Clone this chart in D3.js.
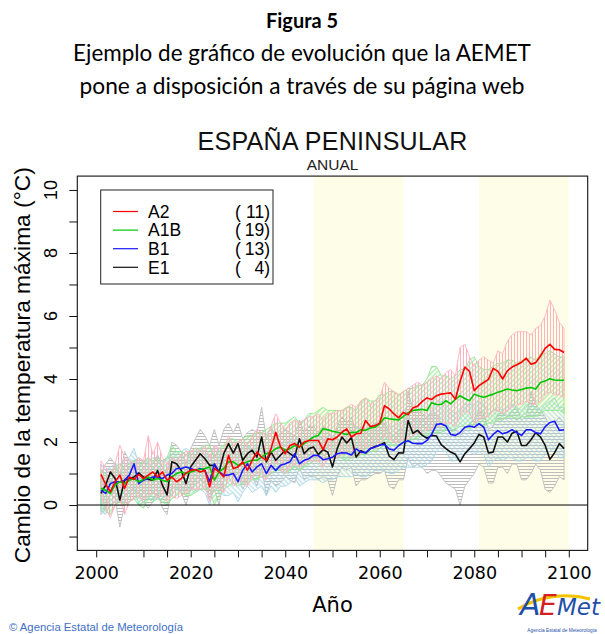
<!DOCTYPE html>
<html><head><meta charset="utf-8">
<script src="https://cdn.jsdelivr.net/npm/d3@7"></script>
<style>body{margin:0;background:#fff}svg{display:block}</style>
</head><body>
<svg id="c" width="605" height="634"></svg>
<script>
// ---------------- DATA ----------------
const firstYear = 2001, lastYear = 2099;
const scenarios = ["A2", "A1B", "B1", "E1"];
const modelCounts = [11, 19, 13, 4];
const xTickValues = [2000, 2010, 2015, 2020, 2025, 2030, 2035, 2040, 2045, 2050, 2055, 2060, 2065, 2070, 2075, 2080, 2085, 2090, 2095, 2100];
const xTickLabels = [2000, 2020, 2040, 2060, 2080, 2100];
const yTickValues = [-1, 0, 1, 2, 3, 4, 5, 6, 7, 8, 9, 10];
const yTickLabels = [0, 2, 4, 6, 8, 10];
const periods = [[2046, 2065], [2081, 2100]];

const a2 = [0.97,0.66,0.42,0.74,0.95,0.53,0.89,0.81,0.97,0.84,
 0.95,1.05,0.89,1.05,0.79,0.89,0.74,0.84,1.02,1.10,
 1.13,1.05,1.10,0.58,1.16,1.05,0.89,1.58,1.16,1.21,
 1.37,1.10,1.42,1.68,1.52,1.42,1.79,2.31,1.84,1.63,
 1.89,1.95,1.84,2.00,2.05,2.05,2.05,1.76,2.10,2.07,
 2.16,2.31,2.42,2.16,2.26,2.28,2.68,2.49,2.52,2.60,
 3.15,3.05,2.89,2.77,2.94,2.87,3.08,3.14,3.29,3.40,
 3.35,3.47,3.52,3.54,3.56,3.36,3.92,4.38,4.24,3.63,
 3.79,3.89,3.99,4.34,4.24,4.00,4.26,4.38,4.45,4.53,
 4.66,4.47,4.52,4.73,4.97,5.10,4.94,4.93,4.84];
const a1b = [0.53,0.47,0.37,0.63,0.74,0.68,0.79,0.84,0.74,0.81,
 0.89,0.79,0.84,0.79,0.74,0.89,1.00,1.05,1.00,1.05,
 1.10,1.13,1.16,1.21,0.79,1.05,1.16,1.37,1.37,1.26,
 1.31,1.37,1.42,1.42,1.52,1.63,1.68,1.79,1.84,1.74,
 1.79,1.89,1.84,1.95,2.05,2.16,2.21,2.42,2.39,2.34,
 2.31,2.28,2.24,2.31,2.30,2.39,2.37,2.45,2.47,2.58,
 2.77,2.74,2.72,2.70,2.81,2.93,3.00,3.02,3.04,3.00,
 3.25,3.19,3.19,3.31,3.21,3.35,3.47,3.38,3.31,3.52,
 3.46,3.42,3.47,3.52,3.58,3.63,3.68,3.65,3.63,3.67,
 3.71,3.73,3.68,3.89,3.94,4.01,3.97,3.96,3.96];
const b1 = [0.47,0.37,0.68,0.74,0.74,0.79,0.95,1.31,0.68,0.79,
 0.84,0.89,0.89,0.84,0.95,1.00,1.16,1.16,1.21,1.16,
 1.10,1.16,1.10,0.74,1.31,1.05,0.95,0.95,1.00,0.74,
 1.10,1.31,1.05,1.21,1.31,1.00,1.26,1.10,1.26,1.31,
 1.37,1.63,1.31,1.42,1.47,1.58,1.57,1.44,1.47,1.52,
 1.63,1.66,1.65,1.59,1.78,1.68,1.66,1.79,1.84,1.91,
 1.92,1.78,1.74,1.89,1.99,2.04,1.96,1.95,1.95,2.05,
 2.25,2.56,2.58,2.51,2.24,2.21,2.30,2.47,2.51,2.47,
 2.58,2.47,2.07,2.24,2.36,2.26,2.31,2.39,2.30,2.21,
 2.39,2.39,2.30,2.26,2.49,2.62,2.66,2.37,2.39];
const e1 = [0.37,0.63,1.05,0.84,0.16,0.79,0.84,0.89,1.02,0.89,
 0.81,0.79,1.10,0.63,0.32,1.37,1.31,1.10,0.68,1.21,
 1.42,1.63,1.47,1.26,1.26,1.05,1.63,1.95,1.65,1.95,
 1.42,1.63,1.74,1.52,2.16,1.37,1.68,1.42,1.58,1.74,
 1.63,1.52,2.10,1.63,1.79,1.84,1.60,1.76,1.68,1.21,
 1.79,2.16,1.97,2.14,1.52,1.72,1.65,1.79,1.86,1.90,
 1.98,1.55,1.44,1.66,1.65,2.68,2.28,2.37,2.21,2.12,
 2.21,2.19,1.92,1.79,1.68,1.61,1.37,1.63,1.79,1.97,
 2.24,2.16,1.65,1.68,2.16,2.16,2.00,2.28,2.34,1.89,
 1.89,2.07,2.30,2.16,1.89,1.45,1.66,1.95,1.79];

const a2Hi = [1.4,1.2,1.0,1.3,1.9,1.5,1.4,1.3,1.5,1.4,
 2.2,1.6,2.0,1.5,1.3,1.5,1.4,1.6,1.7,1.7,
 1.8,1.7,1.9,1.5,1.9,1.8,1.7,2.2,1.9,2.0,
 2.1,1.9,2.2,2.4,2.3,2.2,2.5,2.9,2.6,2.4,
 2.6,2.7,2.6,2.7,2.8,2.8,2.9,2.7,2.9,2.9,
 3.0,3.0,3.1,3.2,3.1,3.3,3.4,3.2,3.3,3.4,
 3.9,3.7,3.6,3.5,3.6,3.7,3.8,3.9,3.8,3.9,
 4.0,4.1,4.0,4.2,4.3,4.1,5.0,5.1,4.7,4.4,
 4.6,4.7,4.6,4.5,4.9,4.8,5.2,5.4,5.5,5.5,
 5.5,5.4,5.6,5.7,6.0,6.5,6.2,5.8,5.6];
const a2Lo = [0.3,-0.1,-0.4,0.0,0.2,-0.3,0.1,0.2,0.3,0.1,
 0.3,0.4,0.2,0.4,0.1,0.3,0.2,0.3,0.4,0.5,
 0.5,0.5,0.6,0.1,0.6,0.5,0.4,0.9,0.6,0.7,
 0.8,0.6,0.9,1.0,0.9,0.8,1.1,1.4,1.1,1.0,
 1.2,1.3,1.2,1.3,1.4,1.4,1.4,1.2,1.5,1.5,
 1.5,1.6,1.7,1.5,1.6,1.6,1.9,1.8,1.8,1.9,
 2.2,2.1,2.0,2.0,2.1,2.1,2.2,2.3,2.3,2.4,
 2.4,2.5,2.5,2.6,2.6,2.5,2.8,3.0,2.9,2.6,
 2.7,2.8,2.8,3.0,3.0,2.9,3.0,3.1,3.2,3.2,
 3.3,3.2,3.2,3.3,3.5,3.6,3.5,3.5,3.4];
const a1bHi = [1.1,1.0,0.9,1.2,1.3,1.2,1.3,1.4,1.3,1.4,
 1.5,1.4,1.5,1.4,1.5,1.9,1.7,1.7,1.6,1.7,
 1.8,1.8,1.9,1.9,1.5,1.8,1.9,2.1,2.1,2.0,
 2.1,2.2,2.2,2.3,2.3,2.4,2.5,2.6,2.6,2.6,
 2.7,2.8,2.6,2.7,2.9,2.9,3.0,3.1,3.0,3.0,
 3.0,3.0,3.1,3.1,3.0,3.3,3.4,3.3,3.3,3.5,
 3.5,3.6,3.6,3.5,3.6,3.7,3.7,3.8,3.8,4.0,
 4.4,4.4,4.1,4.1,4.0,4.1,4.3,4.3,4.6,4.7,
 4.4,4.3,4.3,4.4,4.5,4.5,4.6,4.6,4.5,4.6,
 4.6,4.7,4.6,4.8,4.8,4.9,4.8,4.7,4.7];
const a1bLo = [-0.1,-0.2,-0.3,0.0,0.1,0.0,0.1,0.2,0.0,-0.1,
 0.2,0.1,0.2,0.1,0.0,0.2,0.3,0.4,0.3,0.3,
 0.4,0.5,0.5,0.5,0.0,0.3,0.5,0.6,0.7,0.6,
 0.7,0.7,0.8,0.8,0.9,0.9,1.0,1.1,1.1,1.0,
 1.1,1.2,1.1,1.2,1.3,1.4,1.4,1.6,1.5,1.5,
 1.5,1.5,1.4,1.5,1.5,1.6,1.6,1.7,1.7,1.8,
 1.9,1.9,1.9,1.9,2.0,2.0,2.1,2.1,2.2,2.2,
 2.3,2.3,2.3,2.4,2.3,2.4,2.5,2.5,2.4,2.6,
 2.6,2.5,2.6,2.6,2.7,2.7,2.8,2.8,2.7,2.8,
 2.8,2.8,2.8,2.9,3.0,3.0,3.0,3.0,2.9];
const b1Hi = [1.3,1.1,1.2,1.3,1.3,1.4,1.5,1.8,1.3,1.4,
 1.4,1.5,1.5,1.4,1.5,1.6,1.7,1.7,1.8,1.7,
 1.7,1.8,1.7,1.4,1.9,1.7,1.6,1.6,1.7,1.5,
 1.8,1.9,1.7,1.9,1.9,1.7,1.9,1.8,1.9,2.0,
 2.0,2.2,2.0,2.1,2.1,2.2,2.2,2.1,2.2,2.2,
 2.3,2.3,2.4,2.3,2.5,2.4,2.4,2.5,2.6,2.6,
 2.6,2.5,2.5,2.6,2.7,2.8,2.7,2.7,2.7,2.8,
 3.0,3.3,3.3,3.2,3.0,2.9,3.0,3.2,3.2,3.2,
 3.3,3.2,2.9,3.0,3.1,3.0,3.1,3.2,3.1,3.0,
 3.2,3.2,3.1,3.0,3.2,3.3,3.4,3.1,3.1];
const b1Lo = [-0.2,-0.3,0.0,0.1,0.1,0.1,0.3,0.6,0.0,0.1,
 0.2,0.2,0.2,0.2,0.3,0.3,0.5,0.5,0.5,0.5,
 0.4,0.5,0.4,0.0,0.6,0.4,0.3,0.3,0.4,0.1,
 0.4,0.6,0.4,0.5,0.6,0.3,0.6,0.4,0.6,0.6,
 0.7,0.9,0.6,0.7,0.8,0.8,0.8,0.7,0.8,0.8,
 0.9,0.9,0.9,0.9,1.0,0.9,0.9,1.0,1.1,1.1,
 1.1,1.0,1.0,1.1,1.2,1.2,1.2,1.2,1.2,1.3,
 1.4,1.7,1.7,1.7,1.4,1.4,1.5,1.6,1.7,1.6,
 1.7,1.6,1.2,1.4,1.5,1.4,1.5,1.5,1.4,1.4,
 1.5,1.5,1.4,1.4,1.6,1.7,1.8,1.5,1.5];
const e1Hi = [1.0,1.3,1.5,1.3,0.9,1.7,1.4,1.4,1.5,1.4,
 1.3,1.3,1.6,1.2,1.0,2.0,1.9,1.7,1.3,1.8,
 2.1,2.4,2.2,1.9,2.4,1.9,2.4,2.6,2.3,2.6,
 2.1,2.3,2.4,2.3,3.1,2.1,2.5,2.1,2.3,2.4,
 2.3,2.2,2.7,2.3,2.5,2.5,2.3,2.5,2.4,2.0,
 2.5,2.8,2.6,2.8,2.3,2.5,2.4,2.5,2.6,2.6,
 2.6,2.3,2.2,2.4,2.4,3.6,3.0,3.1,2.9,2.8,
 2.9,2.9,2.6,2.6,2.4,2.4,2.2,2.4,2.6,2.7,
 3.0,2.9,2.4,2.5,2.9,2.9,2.8,3.0,3.1,2.7,
 2.8,3.6,3.2,3.0,2.8,2.5,2.6,2.8,2.6];
const e1Lo = [-0.3,-0.1,0.4,0.2,-0.7,0.0,0.1,0.2,0.3,0.1,
 -0.1,0.1,0.4,-0.1,-0.3,0.6,0.5,0.4,0.0,0.5,
 0.7,0.8,0.7,0.2,0.5,0.0,0.8,1.1,0.9,1.0,
 0.5,0.8,0.9,0.6,1.2,0.3,0.8,0.6,0.7,0.9,
 0.8,0.7,1.2,0.8,0.9,0.9,0.8,0.9,0.8,0.3,
 0.9,1.2,1.1,1.2,0.6,0.8,0.8,0.9,1.0,1.0,
 1.1,0.6,0.5,0.8,0.8,1.5,1.2,1.3,1.2,1.0,
 1.1,1.1,0.9,0.7,0.6,0.5,0.0,0.6,0.8,1.0,
 1.3,1.2,0.7,0.7,1.2,1.2,1.0,1.3,1.3,0.8,
 0.8,1.0,1.3,1.1,0.5,0.4,0.6,0.9,0.8];

// ---------------- DRAWING ----------------
const years = d3.range(firstYear, lastYear + 1);
const lineColors = {A2: "#ff0000", A1B: "#00c800", B1: "#1a1aff", E1: "#111111"};
const bandColors = {A2: "#ffb3c1", A1B: "#8fe68f", B1: "#a9d6e8", E1: "#bdbdbd"};
const means = {A2: a2, A1B: a1b, B1: b1, E1: e1};
const his = {A2: a2Hi, A1B: a1bHi, B1: b1Hi, E1: e1Hi};
const los = {A2: a2Lo, A1B: a1bLo, B1: b1Lo, E1: e1Lo};

const svg = d3.select("#c");
svg.append("rect").attr("width", 605).attr("height", 634).attr("fill", "#fff");

const L = 77.3, R = 587.7, T = 176.1, B = 550.4;
const x = d3.scaleLinear().domain([1996, 2104]).range([L, R]);
const y = d3.scaleLinear().domain([-1.44, 10.44]).range([B, T]);

function fit(sel, target) {
  const w = sel.node().getComputedTextLength();
  sel.attr("font-size", parseFloat(sel.attr("font-size")) * target / w);
  return sel;
}

// header
const hf = "Lato, 'Open Sans', sans-serif";
fit(svg.append("text").attr("x", 302).attr("y", 28).attr("text-anchor", "middle")
  .attr("font-family", hf).attr("font-weight", 700).attr("font-size", 20).attr("fill", "#000").text("Figura 5"), 72);
fit(svg.append("text").attr("x", 302).attr("y", 61).attr("text-anchor", "middle")
  .attr("font-family", hf).attr("font-size", 21).attr("fill", "#000").text("Ejemplo de gráfico de evolución que la AEMET"), 458);
fit(svg.append("text").attr("x", 302).attr("y", 94).attr("text-anchor", "middle")
  .attr("font-family", hf).attr("font-size", 21).attr("fill", "#000").text("pone a disposición a través de su página web"), 445);

// chart titles
const af = "'Liberation Sans', Arial, sans-serif";
svg.append("text").attr("x", (L + R) / 2).attr("y", 150).attr("text-anchor", "middle")
  .attr("font-family", af).attr("font-size", 25).attr("fill", "#111").attr("letter-spacing", 0.3)
  .text("ESPAÑA PENINSULAR");
svg.append("text").attr("x", (L + R) / 2).attr("y", 170).attr("text-anchor", "middle")
  .attr("font-family", af).attr("font-size", 15.5).attr("fill", "#222").text("ANUAL");

// defs: clip + hatch patterns
const defs = svg.append("defs");
defs.append("clipPath").attr("id", "clip").append("rect")
  .attr("x", L).attr("y", T).attr("width", R - L).attr("height", B - T);
function hatch(id, color, angle, spacing) {
  const p = defs.append("pattern").attr("id", id).attr("patternUnits", "userSpaceOnUse")
    .attr("width", spacing).attr("height", spacing).attr("patternTransform", `rotate(${angle})`);
  p.append("line").attr("x1", spacing / 2).attr("x2", spacing / 2).attr("y1", -1).attr("y2", spacing + 1)
    .attr("stroke", color).attr("stroke-width", 1);
}
hatch("hA2", bandColors.A2, 0, 3);
hatch("hA1B", bandColors.A1B, 45, 3.5);
hatch("hB1", bandColors.B1, -45, 3.5);
hatch("hE1", bandColors.E1, 90, 3);

const plot = svg.append("g").attr("clip-path", "url(#clip)");

// highlighted periods
plot.selectAll("rect.period").data(periods).join("rect").attr("class", "period")
  .attr("x", d => x(d[0])).attr("width", d => x(d[1]) - x(d[0]))
  .attr("y", T).attr("height", B - T).attr("fill", "#fefee8");

// envelopes
const area = d3.area().x((d, i) => x(years[i]));
["E1", "B1", "A1B", "A2"].forEach(s => {
  const hi = his[s], lo = los[s];
  plot.append("path").datum(years)
    .attr("d", area.y0((d, i) => y(lo[i])).y1((d, i) => y(hi[i])))
    .attr("fill", `url(#h${s})`).attr("stroke", bandColors[s]).attr("stroke-width", 0.9);
});

// zero line
plot.append("line").attr("x1", L).attr("x2", R).attr("y1", y(0)).attr("y2", y(0))
  .attr("stroke", "#000").attr("stroke-width", 1);

// mean lines
const line = d3.line().x((d, i) => x(years[i])).y(d => y(d));
["E1", "B1", "A1B", "A2"].forEach(s => {
  plot.append("path").datum(means[s]).attr("d", line).attr("fill", "none")
    .attr("stroke", lineColors[s]).attr("stroke-width", 1.6).attr("stroke-linejoin", "round");
});

// frame
svg.append("rect").attr("x", L).attr("y", T).attr("width", R - L).attr("height", B - T)
  .attr("fill", "none").attr("stroke", "#111").attr("stroke-width", 1.1);

// x axis
const xa = svg.append("g").attr("transform", `translate(0,${B})`)
  .call(d3.axisBottom(x).tickValues(xTickValues).tickSize(7)
    .tickFormat(d => xTickLabels.includes(d) ? d : ""));
xa.select(".domain").remove();
xa.selectAll("line").attr("stroke", "#111");
xa.selectAll("text").attr("y", 29).attr("dy", 0).attr("fill", "#000")
  .attr("font-family", "'DejaVu Sans', sans-serif").attr("font-size", 17.5);

// y axis
const ya = svg.append("g").attr("transform", `translate(${L},0)`)
  .call(d3.axisLeft(y).tickValues(yTickValues).tickSize(8).tickFormat(""));
ya.select(".domain").remove();
ya.selectAll("line").attr("stroke", "#111");
svg.selectAll("text.ytl").data(yTickLabels).join("text").attr("class", "ytl")
  .attr("transform", d => `translate(57,${y(d)}) rotate(-90)`).attr("text-anchor", "middle")
  .attr("font-family", af).attr("font-size", 18).attr("fill", "#000").text(d => d);

// axis titles
fit(svg.append("text").attr("transform", `translate(30,${(T + B) / 2 + 2}) rotate(-90)`).attr("text-anchor", "middle")
  .attr("font-family", af).attr("font-size", 21).attr("fill", "#000")
  .text("Cambio de la temperatura máxima (°C)"), 396);
svg.append("text").attr("x", (L + R) / 2).attr("y", 612).attr("text-anchor", "middle")
  .attr("font-family", "'DejaVu Sans', sans-serif").attr("font-size", 21).attr("fill", "#000").text("Año");

// legend
const lg = svg.append("g");
lg.append("rect").attr("x", 100.7).attr("y", 190).attr("width", 172.3).attr("height", 94)
  .attr("fill", "#fff").attr("stroke", "#222").attr("stroke-width", 1);
scenarios.forEach((s, i) => {
  const cy = 211.5 + i * 18.6;
  lg.append("line").attr("x1", 113).attr("x2", 138).attr("y1", cy).attr("y2", cy)
    .attr("stroke", lineColors[s]).attr("stroke-width", 1.2);
  lg.append("text").attr("x", 148).attr("y", cy + 6.3).attr("font-family", af).attr("font-size", 17.5)
    .attr("fill", "#000").text(s);
  lg.append("text").attr("x", 235).attr("y", cy + 6.3).attr("font-family", af).attr("font-size", 17.5)
    .attr("fill", "#000").text("(");
  lg.append("text").attr("x", 270).attr("y", cy + 6.3).attr("text-anchor", "end").attr("font-family", af)
    .attr("font-size", 17.5).attr("fill", "#000").text(modelCounts[i] + ")");
});

// footer
svg.append("text").attr("x", 9).attr("y", 631).attr("font-family", af).attr("font-size", 11.3)
  .attr("fill", "#3f6fc6").text("© Agencia Estatal de Meteorología");

// logo
const logo = svg.append("g");
logo.append("path").attr("d", "M518,609 C540,595 568,593 590,599").attr("fill", "none")
  .attr("stroke", "#f2c400").attr("stroke-width", 3);
logo.append("text").attr("x", 520).attr("y", 615).attr("font-family", "'DejaVu Sans', sans-serif")
  .attr("font-style", "italic").attr("font-size", 30).attr("fill", "#1f4fa8").text("A");
logo.append("text").attr("x", 539).attr("y", 615).attr("font-family", "'DejaVu Sans', sans-serif")
  .attr("font-style", "italic").attr("font-size", 28).attr("fill", "#d42020").text("E");
logo.append("text").attr("x", 557).attr("y", 615).attr("font-family", "'DejaVu Sans', sans-serif")
  .attr("font-style", "italic").attr("font-size", 23).attr("fill", "#1f4fa8").text("Met");
logo.append("text").attr("x", 562).attr("y", 631.5).attr("text-anchor", "middle").attr("font-family", af)
  .attr("font-size", 4.8).attr("fill", "#1f4fa8").text("Agencia Estatal de Meteorología");
</script>
</body></html>
